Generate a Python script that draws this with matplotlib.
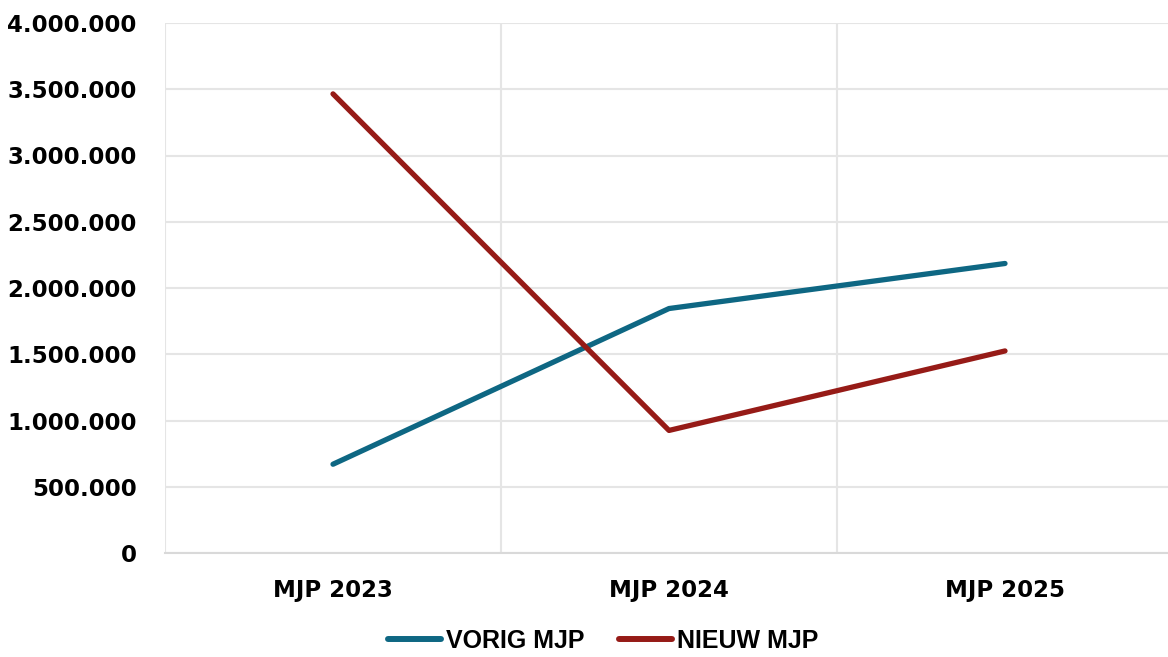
import matplotlib
matplotlib.use("Agg")
import matplotlib.pyplot as plt
from matplotlib.ticker import FuncFormatter, FixedLocator

categories = ["MJP 2023", "MJP 2024", "MJP 2025"]
vorig = [670000, 1845000, 2185000]
nieuw = [3465000, 925000, 1525000]
series_names = ["VORIG MJP", "NIEUW MJP"]
yticks = [0, 500000, 1000000, 1500000, 2000000, 2500000, 3000000, 3500000, 4000000]

fig = plt.figure(figsize=(11.68, 6.57), dpi=100)
ax = fig.add_axes([165/1168, 1 - 553/657, (1173-165)/1168, (553-23)/657])

x = list(range(len(categories)))
ax.plot(x, vorig, color="#0E6783", lw=3.8, solid_capstyle="round", label=series_names[0], zorder=3)
ax.plot(x, nieuw, color="#961B17", lw=3.8, solid_capstyle="round", label=series_names[1], zorder=3)

ax.set_xlim(-0.5, 2.5)
ax.set_ylim(0, 4000000)
ax.set_yticks(yticks)
ax.yaxis.set_major_formatter(FuncFormatter(lambda v, p: f"{int(v):,}".replace(",", ".")))
ax.set_xticks(x)
ax.set_xticklabels(categories)
ax.xaxis.set_minor_locator(FixedLocator([-0.5, 0.5, 1.5]))

for s in ["top", "right", "left"]:
    ax.spines[s].set_visible(False)
ax.spines["bottom"].set_color("#D9D9D9")
ax.spines["bottom"].set_linewidth(1.5)

ax.grid(axis="y", which="major", color="#E5E5E5", lw=1.5, zorder=0)
ax.grid(axis="x", which="minor", color="#E5E5E5", lw=1.5, zorder=0)
ax.tick_params(axis="both", which="both", length=0)
ax.tick_params(axis="y", pad=20.5)
ax.tick_params(axis="x", pad=19)

for lab in ax.get_yticklabels() + ax.get_xticklabels():
    lab.set_fontfamily("DejaVu Sans")
    lab.set_fontweight("bold")
    lab.set_fontsize(16.5)
    lab.set_color("black")

leg = fig.legend(loc="center", bbox_to_anchor=(603/1168, 1 - 641/657), ncol=2, frameon=False,
                 prop={"family": "Liberation Sans", "weight": "bold", "size": 18},
                 handlelength=2.1, handletextpad=0.2, columnspacing=1.4)
for line in leg.get_lines():
    line.set_linewidth(4.3)
    line.set_solid_capstyle("round")

fig.savefig("out.png", dpi=100, facecolor="white")
